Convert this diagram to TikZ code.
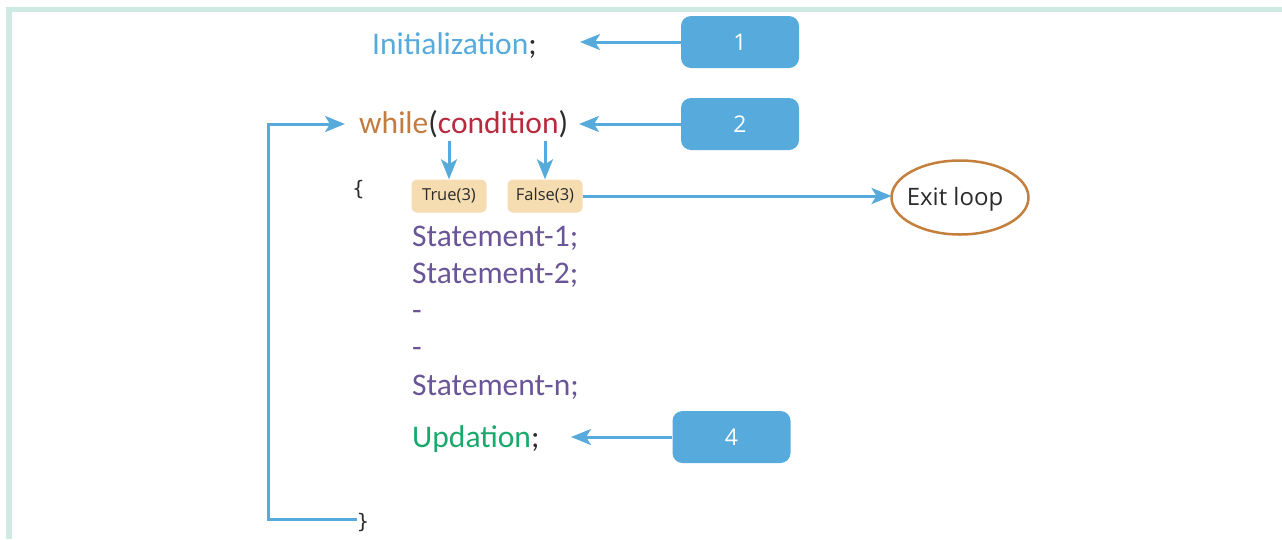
\documentclass[tikz,border=0pt]{standalone}
\usepackage{fontspec}
\setmainfont{Carlito}
\newfontfamily\labelfont{Open Sans}
\newfontfamily\bracefont{DejaVu Sans}
\usetikzlibrary{arrows.meta}
\definecolor{frameC}{HTML}{CFE9E3}
\definecolor{blueC}{HTML}{57AADC}
\definecolor{whileC}{HTML}{C27C3E}
\definecolor{condC}{HTML}{B92A3F}
\definecolor{darkC}{HTML}{2B2B2B}
\definecolor{stmtC}{HTML}{6A5598}
\definecolor{updC}{HTML}{1AA86B}
\definecolor{tagC}{HTML}{F5DDB1}
\definecolor{ellC}{HTML}{C47F3C}
\tikzset{
  codetext/.style={inner sep=0pt, anchor=base west, font=\fontsize{31.5}{37}\selectfont},
  numbox/.style={fill=blueC, rounded corners=10pt, minimum width=118pt, minimum height=52pt, inner sep=0pt, text=white, font=\labelfont\fontsize{23}{26}\selectfont},
  tagbox/.style={fill=tagC, rounded corners=5pt, minimum width=75pt, minimum height=33pt, inner sep=0pt, text=darkC, font=\labelfont\fontsize{16.5}{20}\selectfont},
  barrow/.style={draw=blueC, line width=3pt, -{Stealth[length=20pt,width=16pt,inset=5pt]}},
  bracetext/.style={inner sep=0pt, text=darkC, font=\bracefont\fontsize{20}{24}\selectfont}
}
\begin{document}
\begin{tikzpicture}[x=1pt,y=-1pt]
\useasboundingbox (0,0) rectangle (1282,539);
% frame
\draw[frameC, line width=5.5pt] (9,539) -- (9,9.5) -- (1282,9.5);

% code text
\node[codetext, text=blueC] (init) at (372,54) {Initialization\textcolor{darkC}{;}};
\node[codetext] (while) at (359,133) {\textcolor{whileC}{while}\textcolor{darkC}{(}\textcolor{condC}{condition}\textcolor{darkC}{)}};
\node[bracetext] (lbrace) at (358.5,190) {\{};
\node[codetext, text=stmtC] (s1) at (412,246) {Statement-1;};
\node[codetext, text=stmtC] (s2) at (412,283) {Statement-2;};
\node[codetext, text=stmtC] (d1) at (412,320) {-};
\node[codetext, text=stmtC] (d2) at (412,357) {-};
\node[codetext, text=stmtC] (sn) at (412,395) {Statement-n;};
\node[codetext, text=updC] (upd) at (412,447) {Updation\textcolor{darkC}{;}};
\node[bracetext] (rbrace) at (363,523) {\}};

% numbered boxes
\node[numbox] (b1) at (740,42) {1};
\node[numbox] (b2) at (740,124) {2};
\node[numbox] (b4) at (731.5,437) {4};

% tags
\node[tagbox] (true) at (449,196) {True(3)};
\node[tagbox] (false) at (545,196) {False(3)};

% exit ellipse
\draw[ellC, line width=2.5pt] (960,197.5) ellipse [x radius=68.5pt, y radius=37pt];
\node[inner sep=0pt, text=darkC, font=\labelfont\fontsize{24}{28}\selectfont] (exit) at (955,199) {Exit loop};
\coordinate (exitW) at (891.5,196);

% arrow ends
\coordinate (a1) at (580,42);
\coordinate (a2) at (579,124);
\coordinate (a4) at (571,437);
\coordinate (tT) at (449,141);
\coordinate (fT) at (545,141);
\coordinate (lpA) at (268,124);
\coordinate (lpB) at (268,519);
\coordinate (lpC) at (357,519);
\coordinate (lpEnd) at (345,124);

% connectors
\draw[barrow] (b1.west) -- (a1);
\draw[barrow] (b2.west) -- (a2);
\draw[barrow] (b4.west) -- (a4);
\draw[barrow] (tT) -- (true.north);
\draw[barrow] (fT) -- (false.north);
\draw[barrow] (false.east) -- (exitW);
\draw[barrow] (lpC) -- (lpB) -- (lpA) -- (lpEnd);
\end{tikzpicture}
\end{document}
